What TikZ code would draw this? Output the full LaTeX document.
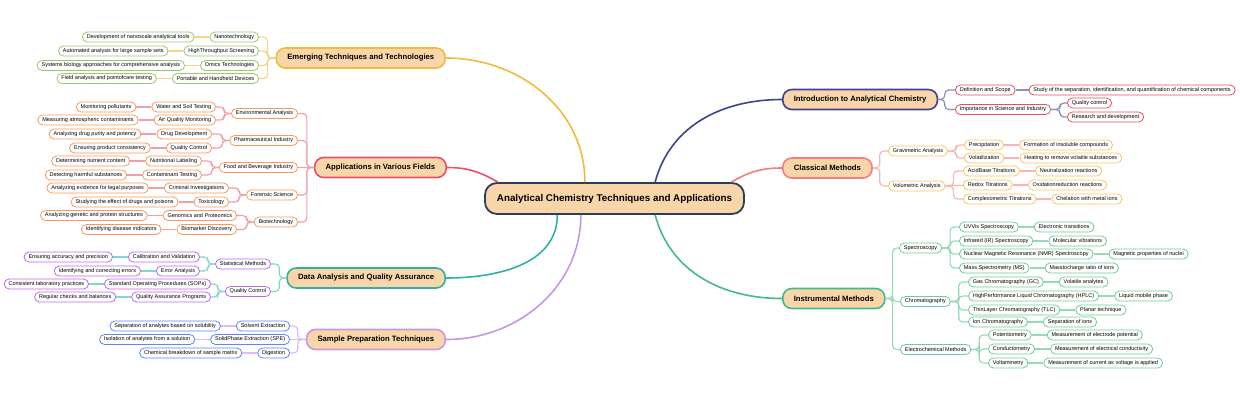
\documentclass[tikz,border=0pt]{standalone}
\usepackage{fontspec}
\setmainfont{Liberation Sans}
\usepackage{xcolor}
\usetikzlibrary{positioning}
\definecolor{peach}{HTML}{F8D6A9}
\definecolor{rootLine}{HTML}{2B3F55}
\definecolor{emergLine}{HTML}{F0BC3E}
\definecolor{emergTwig}{HTML}{F6D28A}
\definecolor{emergNode}{HTML}{9DC76D}
\definecolor{applLine}{HTML}{E4526A}
\definecolor{applTwig}{HTML}{F0A0AA}
\definecolor{applNode}{HTML}{F79A5C}
\definecolor{dataLine}{HTML}{2FB1A6}
\definecolor{dataTwig}{HTML}{84D5CD}
\definecolor{dataNode}{HTML}{C266EA}
\definecolor{sampLine}{HTML}{C597E6}
\definecolor{sampTwig}{HTML}{DCBDF3}
\definecolor{sampNode}{HTML}{5C88F2}
\definecolor{introLine}{HTML}{3E4292}
\definecolor{introTwig}{HTML}{8B8FBF}
\definecolor{introNode}{HTML}{E5505F}
\definecolor{classLine}{HTML}{F57D7D}
\definecolor{classTwig}{HTML}{F9B5B5}
\definecolor{classNode}{HTML}{F8C75C}
\definecolor{instrLine}{HTML}{47B985}
\definecolor{instrTwig}{HTML}{95DBB7}
\definecolor{instrNode}{HTML}{6ECC96}

\begin{document}
\begin{tikzpicture}[x=1pt,y=-1pt,node distance=15pt,
  lb/.style={to path={(\tikztostart.west) -- ++(-#1,0) |- (\tikztotarget.east)}},
  lb/.default=7,
  rb/.style={to path={(\tikztostart.east) -- ++(#1,0) |- (\tikztotarget.west)}},
  rb/.default=7]
  \tikzstyle{every node}=[font=\fontsize{5.5}{6}\selectfont]
  \tikzstyle{topic}=[draw, fill=white, rounded corners=5pt, minimum height=10pt,
    inner ysep=0pt, inner xsep=4.5pt, line width=0.8pt]
  \tikzstyle{branch}=[draw, fill=peach, rounded corners=9pt, minimum height=20pt,
    inner xsep=11pt, line width=1.6pt, font=\fontsize{7.7}{9}\selectfont\bfseries]
  \tikzstyle{root}=[draw=rootLine, fill=peach, rounded corners=12pt, minimum height=31pt,
    inner xsep=12pt, line width=1.8pt, font=\fontsize{9.8}{12}\selectfont\bfseries]
  \tikzstyle{trunk}=[line width=1.6pt]
  \tikzstyle{twig}=[line width=1.2pt, rounded corners=4pt]
  \tikzstyle{etopic}=[topic, draw=emergNode]
  \tikzstyle{atopic}=[topic, draw=applNode]
  \tikzstyle{dtopic}=[topic, draw=dataNode]
  \tikzstyle{stopic}=[topic, draw=sampNode]
  \tikzstyle{itopic}=[topic, draw=introNode]
  \tikzstyle{ctopic}=[topic, draw=classNode]
  \tikzstyle{ntopic}=[topic, draw=instrNode]

  \useasboundingbox (0,0) rectangle (1240,400);

  \node[root] (R) at (614.5,198.5) {Analytical Chemistry Techniques and Applications};

  % left side
  \node[branch, draw=emergLine, anchor=east] (E) at (446,58)    {Emerging Techniques and Technologies};
  \node[etopic, anchor=east] (E1) at (259,37)   {Nanotechnology};
  \node[etopic, anchor=east] (E2) at (259,51)   {HighThroughput Screening};
  \node[etopic, anchor=east] (E3) at (259,65.5) {Omics Technologies};
  \node[etopic, anchor=east] (E4) at (259,78.5) {Portable and Handheld Devices};
  \node[etopic, left=of E1] (E1a) {Development of nanoscale analytical tools};
  \node[etopic, left=of E2] (E2a) {Automated analysis for large sample sets};
  \node[etopic, left=of E3] (E3a) {Systems biology approaches for comprehensive analysis};
  \node[etopic, left=of E4] (E4a) {Field analysis and pointofcare testing};

  \node[branch, draw=applLine, anchor=east] (A) at (447,167.5) {Applications in Various Fields};
  \node[atopic, anchor=east] (A1)  at (298,113.5) {Environmental Analysis};
  \node[atopic, anchor=east] (A2)  at (298,140.5) {Pharmaceutical Industry};
  \node[atopic, anchor=east] (A3)  at (298,167.5) {Food and Beverage Industry};
  \node[atopic, anchor=east] (A4)  at (298,195)   {Forensic Science};
  \node[atopic, anchor=east] (A5)  at (298,222)   {Biotechnology};
  \node[atopic, anchor=east] (A11) at (216,107)   {Water and Soil Testing};
  \node[atopic, anchor=east] (A12) at (216,120)   {Air Quality Monitoring};
  \node[atopic, anchor=east] (A21) at (212,134)   {Drug Development};
  \node[atopic, anchor=east] (A22) at (212,148)   {Quality Control};
  \node[atopic, anchor=east] (A31) at (202,161)   {Nutritional Labeling};
  \node[atopic, anchor=east] (A32) at (202,175)   {Contaminant Testing};
  \node[atopic, anchor=east] (A41) at (229,188)   {Criminal Investigations};
  \node[atopic, anchor=east] (A42) at (229,202)   {Toxicology};
  \node[atopic, anchor=east] (A51) at (237,215.5) {Genomics and Proteomics};
  \node[atopic, anchor=east] (A52) at (237,229.5) {Biomarker Discovery};
  \node[atopic, left=of A11] (A11a) {Monitoring pollutants};
  \node[atopic, left=of A12] (A12a) {Measuring atmospheric contaminants};
  \node[atopic, left=of A21] (A21a) {Analyzing drug purity and potency};
  \node[atopic, left=of A22] (A22a) {Ensuring product consistency};
  \node[atopic, left=of A31] (A31a) {Determining nutrient content};
  \node[atopic, left=of A32] (A32a) {Detecting harmful substances};
  \node[atopic, left=of A41] (A41a) {Analyzing evidence for legal purposes};
  \node[atopic, left=of A42] (A42a) {Studying the effect of drugs and poisons};
  \node[atopic, left=of A51] (A51a) {Analyzing genetic and protein structures};
  \node[atopic, left=of A52] (A52a) {Identifying disease indicators};

  \node[branch, draw=dataLine, anchor=east] (D) at (446,278) {Data Analysis and Quality Assurance};
  \node[dtopic, anchor=east] (D1)  at (271,264)   {Statistical Methods};
  \node[dtopic, anchor=east] (D2)  at (271,291.5) {Quality Control};
  \node[dtopic, anchor=east] (D11) at (200,257)   {Calibration and Validation};
  \node[dtopic, anchor=east] (D12) at (200,271)   {Error Analysis};
  \node[dtopic, anchor=east] (D21) at (211,284)   {Standard Operating Procedures (SOPs)};
  \node[dtopic, anchor=east] (D22) at (211,297)   {Quality Assurance Programs};
  \node[dtopic, left=of D11] (D11a) {Ensuring accuracy and precision};
  \node[dtopic, left=of D12] (D12a) {Identifying and correcting errors};
  \node[dtopic, left=of D21] (D21a) {Consistent laboratory practices};
  \node[dtopic, left=of D22] (D22a) {Regular checks and balances};

  \node[branch, draw=sampLine, anchor=east] (S) at (446,339.5) {Sample Preparation Techniques};
  \node[stopic, anchor=east] (S1) at (290,326)   {Solvent Extraction};
  \node[stopic, anchor=east] (S2) at (290,339.5) {SolidPhase Extraction (SPE)};
  \node[stopic, anchor=east] (S3) at (290,353)   {Digestion};
  \node[stopic, left=of S1] (S1a) {Separation of analytes based on solubility};
  \node[stopic, left=of S2] (S2a) {Isolation of analytes from a solution};
  \node[stopic, left=of S3] (S3a) {Chemical breakdown of sample matrix};

  % right side
  \node[branch, draw=introLine, anchor=west] (I) at (782,99.5) {Introduction to Analytical Chemistry};
  \node[itopic, anchor=west] (I1)  at (955,90)    {Definition and Scope};
  \node[itopic, anchor=west] (I2)  at (955,109.5) {Importance in Science and Industry};
  \node[itopic, anchor=west] (I21) at (1067,103)  {Quality control};
  \node[itopic, anchor=west] (I22) at (1067,117)  {Research and development};
  \node[itopic, right=13pt of I1] (I1a) {Study of the separation, identification, and quantification of chemical components};

  \node[branch, draw=classLine, anchor=west] (C) at (782,168) {Classical Methods};
  \node[ctopic, anchor=west] (C1)  at (888,151) {Gravimetric Analysis};
  \node[ctopic, anchor=west] (C2)  at (888,186) {Volumetric Analysis};
  \node[ctopic, anchor=west] (C11) at (964,145) {Precipitation};
  \node[ctopic, anchor=west] (C12) at (964,158) {Volatilization};
  \node[ctopic, anchor=west] (C21) at (963,171) {AcidBase Titrations};
  \node[ctopic, anchor=west] (C22) at (963,185) {Redox Titrations};
  \node[ctopic, anchor=west] (C23) at (963,199) {Complexometric Titrations};
  \node[ctopic, right=of C11] (C11a) {Formation of insoluble compounds};
  \node[ctopic, right=of C12] (C12a) {Heating to remove volatile substances};
  \node[ctopic, right=of C21] (C21a) {Neutralization reactions};
  \node[ctopic, right=of C22] (C22a) {Oxidationreduction reactions};
  \node[ctopic, right=of C23] (C23a) {Chelation with metal ions};

  \node[branch, draw=instrLine, anchor=west] (N) at (782,298.5) {Instrumental Methods};
  \node[ntopic, anchor=west] (N1)  at (899,248)   {Spectroscopy};
  \node[ntopic, anchor=west] (N2)  at (900,301.5) {Chromatography};
  \node[ntopic, anchor=west] (N3)  at (900,349.5) {Electrochemical Methods};
  \node[ntopic, anchor=west] (N11) at (959,227)   {UVVis Spectroscopy};
  \node[ntopic, anchor=west] (N12) at (959,241)   {Infrared (IR) Spectroscopy};
  \node[ntopic, anchor=west] (N13) at (959,254)   {Nuclear Magnetic Resonance (NMR) Spectroscopy};
  \node[ntopic, anchor=west] (N14) at (959,268)   {Mass Spectrometry (MS)};
  \node[ntopic, anchor=west] (N21) at (968,282)   {Gas Chromatography (GC)};
  \node[ntopic, anchor=west] (N22) at (968,296)   {HighPerformance Liquid Chromatography (HPLC)};
  \node[ntopic, anchor=west] (N23) at (968,310)   {ThinLayer Chromatography (TLC)};
  \node[ntopic, anchor=west] (N24) at (968,322)   {Ion Chromatography};
  \node[ntopic, anchor=west] (N31) at (988,335)   {Potentiometry};
  \node[ntopic, anchor=west] (N32) at (988,349)   {Conductometry};
  \node[ntopic, anchor=west] (N33) at (988,363)   {Voltammetry};
  \node[ntopic, right=of N11] (N11a) {Electronic transitions};
  \node[ntopic, right=of N12] (N12a) {Molecular vibrations};
  \node[ntopic, right=of N13] (N13a) {Magnetic properties of nuclei};
  \node[ntopic, right=of N14] (N14a) {Masstocharge ratio of ions};
  \node[ntopic, right=of N21] (N21a) {Volatile analytes};
  \node[ntopic, right=of N22] (N22a) {Liquid mobile phase};
  \node[ntopic, right=of N23] (N23a) {Planar technique};
  \node[ntopic, right=of N24] (N24a) {Separation of ions};
  \node[ntopic, right=of N31] (N31a) {Measurement of electrode potential};
  \node[ntopic, right=of N32] (N32a) {Measurement of electrical conductivity};
  \node[ntopic, right=of N33] (N33a) {Measurement of current as voltage is applied};

  \path[trunk]
  (R.151) edge[emergLine, out=90,  in=0]   (E.east)
  (R.172) edge[applLine,  out=150, in=0]   (A.east)
  (R.196) edge[dataLine,  out=270, in=0]   (D.east)
  (R.206) edge[sampLine,  out=270, in=0]   (S.east)
  (R.22)  edge[introLine, out=75,  in=180] (I.west)
  (R.8)   edge[classLine, out=30,  in=180] (C.west)
  (R.338) edge[instrLine, out=285, in=180] (N.west)
  ;

  % straight edges where parent and child share a row
  \path[twig, emergTwig]
  (E) edge[lb=8] (E1)  (E) edge[lb=8] (E2)  (E) edge[lb=8] (E3)  (E) edge[lb=8] (E4)
  (E1) edge (E1a)  (E2) edge (E2a)  (E3) edge (E3a)  (E4) edge (E4a)
  ;
  \path[twig, applTwig]
  (A) edge[lb] (A1)  (A) edge[lb] (A2)  (A) edge (A3)  (A) edge[lb] (A4)  (A) edge[lb] (A5)
  (A1) edge[lb] (A11)  (A1) edge[lb] (A12)  (A2) edge[lb] (A21)  (A2) edge[lb] (A22)
  (A3) edge[lb] (A31)  (A3) edge[lb] (A32)  (A4) edge[lb] (A41)  (A4) edge[lb] (A42)
  (A5) edge[lb] (A51)  (A5) edge[lb] (A52)
  (A11) edge (A11a)  (A12) edge (A12a)  (A21) edge (A21a)  (A22) edge (A22a)
  (A31) edge (A31a)  (A32) edge (A32a)  (A41) edge (A41a)  (A42) edge (A42a)
  (A51) edge (A51a)  (A52) edge (A52a)
  ;
  \path[twig, dataTwig]
  (D) edge[lb] (D1)  (D) edge[lb] (D2)
  (D1) edge[lb] (D11)  (D1) edge[lb] (D12)  (D2) edge[lb] (D21)  (D2) edge[lb] (D22)
  (D11) edge (D11a)  (D12) edge (D12a)  (D21) edge (D21a)  (D22) edge (D22a)
  ;
  \path[twig, sampTwig]
  (S) edge[lb=8] (S1)  (S) edge (S2)  (S) edge[lb=8] (S3)
  (S1) edge (S1a)  (S2) edge (S2a)  (S3) edge (S3a)
  ;
  \path[twig, introTwig]
  (I) edge[rb=6.5] (I1)  (I) edge[rb=6.5] (I2)
  (I2) edge[rb=9] (I21)  (I2) edge[rb=9] (I22)  (I1) edge (I1a)
  ;
  \path[twig, classTwig]
  (C) edge[rb] (C1)  (C) edge[rb] (C2)
  (C1) edge[rb=8] (C11)  (C1) edge[rb=8] (C12)
  (C2) edge[rb=8] (C21)  (C2) edge (C22)  (C2) edge[rb=8] (C23)
  (C11) edge (C11a)  (C12) edge (C12a)
  (C21) edge (C21a)  (C22) edge (C22a)  (C23) edge (C23a)
  ;
  \path[twig, instrTwig]
  (N) edge[rb] (N1)  (N) edge[rb] (N2)  (N) edge[rb] (N3)
  (N1) edge[rb=8] (N11)  (N1) edge[rb=8] (N12)  (N1) edge[rb=8] (N13)  (N1) edge[rb=8] (N14)
  (N2) edge[rb=8] (N21)  (N2) edge[rb=8] (N22)  (N2) edge[rb=8] (N23)  (N2) edge[rb=8] (N24)
  (N3) edge[rb=8] (N31)  (N3) edge[rb=8] (N32)  (N3) edge[rb=8] (N33)
  (N11) edge (N11a)  (N12) edge (N12a)  (N13) edge (N13a)  (N14) edge (N14a)
  (N21) edge (N21a)  (N22) edge (N22a)  (N23) edge (N23a)  (N24) edge (N24a)
  (N31) edge (N31a)  (N32) edge (N32a)  (N33) edge (N33a)
  ;
\end{tikzpicture}
\end{document}
